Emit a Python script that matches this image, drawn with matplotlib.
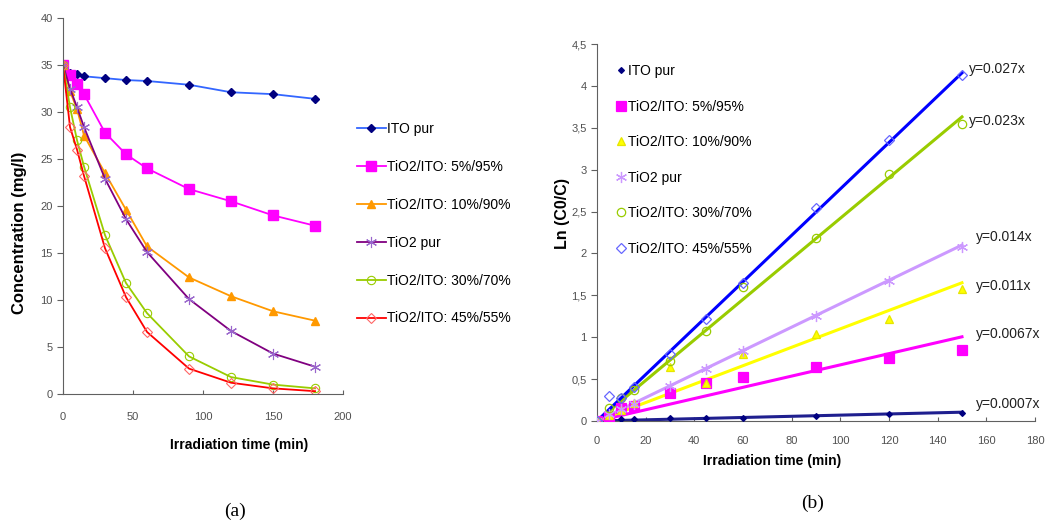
import matplotlib
matplotlib.use("Agg")
import matplotlib.pyplot as plt
import numpy as np

plt.rcParams['font.family'] = ['Liberation Sans', 'DejaVu Sans']

# --- panel (a): concentration vs time
t_a = [0, 5, 10, 15, 30, 45, 60, 90, 120, 150, 180]
ito_pur = [35, 34.2, 34.0, 33.8, 33.6, 33.4, 33.3, 32.9, 32.1, 31.9, 31.4]
tio_5 = [35, 33.9, 33.0, 31.9, 27.8, 25.5, 24.0, 21.8, 20.5, 19.0, 17.9]
tio_10 = [35, 32.2, 30.3, 27.5, 23.5, 19.6, 15.7, 12.4, 10.4, 8.8, 7.8]
tio_pur = [35, 32.5, 30.5, 28.4, 22.9, 18.6, 15.1, 10.1, 6.7, 4.3, 2.9]
tio_30 = [35, 30.5, 27.0, 24.2, 16.9, 11.8, 8.6, 4.0, 1.8, 1.0, 0.6]
tio_45 = [35, 28.4, 26.0, 23.2, 15.5, 10.3, 6.6, 2.7, 1.2, 0.6, 0.3]

labels = ['ITO pur', 'TiO2/ITO: 5%/95%', 'TiO2/ITO: 10%/90%', 'TiO2 pur',
          'TiO2/ITO: 30%/70%', 'TiO2/ITO: 45%/55%']

# --- panel (b): ln(C0/C) vs time
t_b = [0, 5, 10, 15, 30, 45, 60, 90, 120, 150]
ln_ito = [0, 0.01, 0.02, 0.025, 0.03, 0.035, 0.04, 0.06, 0.08, 0.1]
ln_5 = [0, 0.05, 0.15, 0.18, 0.33, 0.45, 0.53, 0.65, 0.75, 0.85]
ln_10 = [0, 0.07, 0.13, 0.22, 0.65, 0.45, 0.8, 1.04, 1.22, 1.57]
ln_pur = [0, 0.08, 0.14, 0.2, 0.42, 0.62, 0.83, 1.25, 1.67, 2.08]
ln_30 = [0, 0.15, 0.27, 0.37, 0.72, 1.08, 1.6, 2.18, 2.95, 3.55]
ln_45 = [0, 0.3, 0.28, 0.4, 0.8, 1.22, 1.65, 2.54, 3.36, 4.13]
slopes = [0.0007, 0.0067, 0.011, 0.014, 0.0242, 0.0277]
fit_labels = ['y=0.0007x', 'y=0.0067x', 'y=0.011x', 'y=0.014x', 'y=0.023x', 'y=0.027x']

fig = plt.figure(figsize=(10.45, 5.22), dpi=100)
ax1 = fig.add_axes([0.0603, 0.2452, 0.268, 0.7203])
ax2 = fig.add_axes([0.5713, 0.1935, 0.4191, 0.7222])

tick_col = '#505050'

# panel a
series_a = [ito_pur, tio_5, tio_10, tio_pur, tio_30, tio_45]
styles_a = [
    dict(color='#3366ff', marker='D', ms=4, mfc='#000080', mec='#000080'),
    dict(color='#ff00ff', marker='s', ms=7, mfc='#ff00ff', mec='#ff00ff'),
    dict(color='#ff9900', marker='^', ms=6, mfc='#ff9900', mec='#ff9900'),
    dict(color='#800080', marker=(6, 2, 0), ms=8, mfc='#800080', mec='#9966cc', mew=0.8),
    dict(color='#99cc00', marker='o', ms=6, mfc='none', mec='#99cc00', mew=0.8),
    dict(color='#ff0000', marker='D', ms=5, mfc='none', mec='#ff6666', mew=0.8),
]
for y, st, lab in zip(series_a, styles_a, labels):
    ax1.plot(t_a, y, lw=1.3, label=lab, **st)

ax1.set_xlim(0, 200)
ax1.set_ylim(0, 40)
ax1.set_xticks(range(0, 201, 50))
ax1.set_yticks(range(0, 41, 5))
ax1.set_xlabel('Irradiation time (min)', fontsize=10, fontweight='bold')
ax1.set_ylabel('Concentration (mg/l)', fontsize=12, fontweight='bold')
ax1.xaxis.set_label_coords(0.63, -0.118)
ax1.yaxis.set_label_coords(-0.13, 0.43)
ax1.legend(loc='upper left', bbox_to_anchor=(0.336, 0.777), bbox_transform=fig.transFigure,
           frameon=False, fontsize=10, labelspacing=1.72, handlelength=2.1,
           handletextpad=0.1, borderaxespad=0)

# panel b
series_b = [ln_ito, ln_5, ln_10, ln_pur, ln_30, ln_45]
styles_b = [
    dict(line='#1f1f8f', marker='D', ms=3, mfc='#000080', mec='#000080'),
    dict(line='#ff00ff', marker='s', ms=7, mfc='#ff00ff', mec='#ff00ff'),
    dict(line='#ffff00', marker='^', ms=6, mfc='#ffff00', mec='#e6e600'),
    dict(line='#cc99ff', marker=(6, 2, 0), ms=8, mfc='#cc99ff', mec='#cc99ff'),
    dict(line='#99cc00', marker='o', ms=6, mfc='none', mec='#99cc00'),
    dict(line='#0000ff', marker='D', ms=5, mfc='none', mec='#6666ff'),
]
text_dy = [6, 2, -2, 6, -3, 3]
text_dx = [10, 10, 10, 10, 5, 5]
xfit = np.array([0, 150])
for y, st, lab, k, ft, dy, dx in zip(series_b, styles_b, labels, slopes, fit_labels,
                                      text_dy, text_dx):
    ax2.plot(xfit, k * xfit, color=st['line'], lw=2.2, zorder=2)
    ax2.plot(t_b, y, ls='none', marker=st['marker'], ms=st['ms'], mfc=st['mfc'],
             mec=st['mec'], mew=0.9, label=lab, zorder=3)
    ax2.annotate(ft, (150, k * 150), xytext=(dx, dy), textcoords='offset points',
                 fontsize=10, color='#202020', va='center', ha='left')

ax2.set_xlim(0, 180)
ax2.set_ylim(0, 4.5)
ax2.set_xticks(range(0, 181, 20))
ax2.set_yticks(np.arange(0, 4.51, 0.5))
ax2.set_yticklabels(['0', '0,5', '1', '1,5', '2', '2,5', '3', '3,5', '4', '4,5'])
ax2.set_xlabel('Irradiation time (min)', fontsize=10, fontweight='bold')
ax2.set_ylabel('Ln (C0/C)', fontsize=11.5, fontweight='bold')
ax2.xaxis.set_label_coords(0.40, -0.088)
ax2.yaxis.set_label_coords(-0.062, 0.55)
ax2.legend(loc='upper left', bbox_to_anchor=(0.585, 0.888), bbox_transform=fig.transFigure,
           frameon=False, fontsize=10, labelspacing=1.55, handlelength=0.6,
           handletextpad=0.2, borderaxespad=0)

for ax in (ax1, ax2):
    for s in ('top', 'right'):
        ax.spines[s].set_visible(False)
    for s in ('left', 'bottom'):
        ax.spines[s].set_color('#606060')
        ax.spines[s].set_linewidth(0.8)
    ax.tick_params(axis='y', direction='out', length=4, width=0.8, color='#606060',
                   labelsize=8, labelcolor=tick_col)
    ax.tick_params(axis='x', direction='in', length=3, width=0.8, color='#606060',
                   labelsize=8, labelcolor=tick_col)
ax1.tick_params(axis='x', pad=13)
ax2.tick_params(axis='x', pad=11)

fig.text(0.225, 0.012, '(a)', fontsize=14, ha='center', family='Liberation Serif')
fig.text(0.778, 0.026, '(b)', fontsize=14, ha='center', family='Liberation Serif')

fig.savefig('out.png', dpi=100)
